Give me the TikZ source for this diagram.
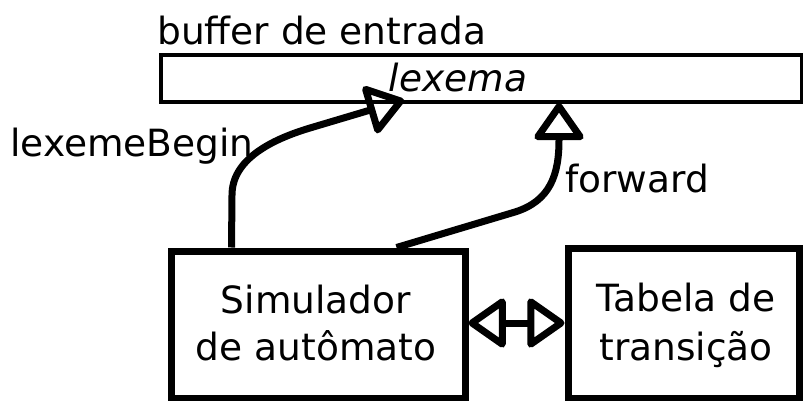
\documentclass[tikz,border=0pt]{standalone}
\usepackage{fontspec}
\setmainfont{DejaVu Sans}
\usetikzlibrary{arrows.meta}
\tikzset{
  txt/.style={inner sep=0pt, anchor=base, font=\fontsize{37.5}{45}\selectfont},
  thinbox/.style={draw, line width=3.2pt, inner sep=0pt},
  thickbox/.style={draw, line width=7pt, inner sep=0pt},
  opentip/.tip={Triangle[open,round,length=40pt,width=54pt]},
  flow/.style={line width=7pt, -opentip},
  both/.style={line width=7pt, opentip-opentip},
}
\begin{document}
\begin{tikzpicture}[x=1pt,y=-1pt]
\useasboundingbox (0,0) rectangle (803,401);
% boxes
\node[thinbox, minimum width=641pt, minimum height=47pt] (buf) at (481.5,78.5) {};
\node[thickbox, minimum width=294pt, minimum height=147pt] (sim) at (318,324.5) {};
\node[thickbox, minimum width=231pt, minimum height=150pt] (tab) at (683.5,323) {};
% texts
\node[txt] (buftitle) at (322,45) {buffer de entrada};
\node[txt] (lex) at (458,92) {\itshape lexema};
\node[txt] (lbl) at (132,157) {lexemeBegin};
\node[txt] (fwl) at (637,192) {forward};
\node[txt] (sim1) at (316,313) {Simulador};
\node[txt] (sim2) at (316,360) {de autômato};
\node[txt] (tab1) at (686,311) {Tabela de};
\node[txt] (tab2) at (686,360) {transição};
% connector end points on the buffer
\coordinate (lbtip) at (404,100);
\coordinate (fwtip) at (559,103);
\coordinate (lbstart) at ([xshift=64pt]sim.north west);
\coordinate (fwstart) at ([xshift=229pt]sim.north west);
% connectors
\draw[flow] (lbstart) -- (232,195) .. controls (232,160) and (270,140) .. (310,128) -- (lbtip);
\draw[flow] (fwstart) -- (515,212) .. controls (550,201) and (559,175) .. (559,140) -- (fwtip);
\draw[both] (tab.west -| sim.east) -- (tab.west);
\end{tikzpicture}
\end{document}
